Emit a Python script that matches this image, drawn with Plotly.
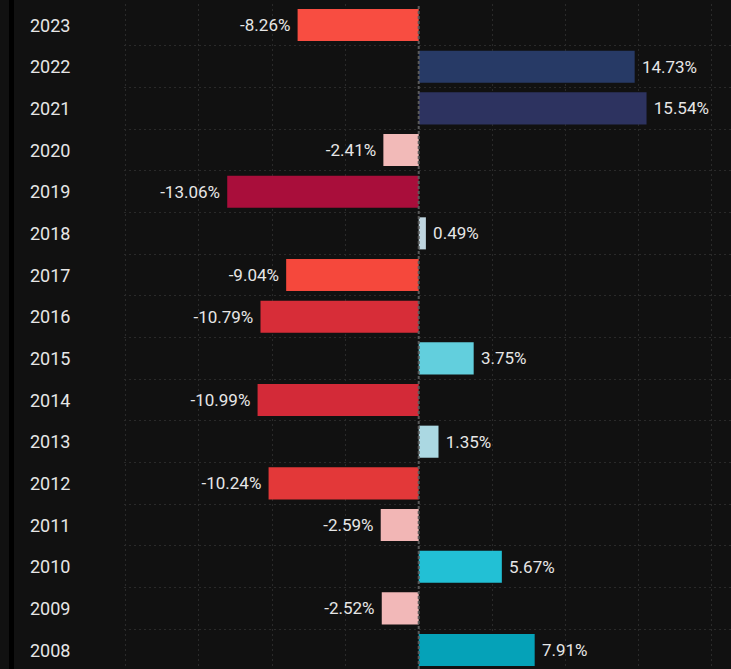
import plotly.graph_objects as go

years = ["2023", "2022", "2021", "2020", "2019", "2018", "2017", "2016",
         "2015", "2014", "2013", "2012", "2011", "2010", "2009", "2008"]
returns = [-8.26, 14.73, 15.54, -2.41, -13.06, 0.49, -9.04, -10.79,
           3.75, -10.99, 1.35, -10.24, -2.59, 5.67, -2.52, 7.91]
colors = ["#F84D41", "#273A66", "#2D3360", "#F2BAB8", "#A90E3B", "#BFD5DF",
          "#F5483C", "#D72D38", "#62CFDD", "#D32A38", "#ABD8E2", "#E33839",
          "#F2B6B5", "#22C0D5", "#F2B8B8", "#05A2B8"]
NB = "\u00a0"
labels = [(NB + f"{v:.2f}%") if v >= 0 else (f"{v:.2f}%" + NB) for v in returns]

W, H = 731, 669
ML, MR, MT, MB = 124, 0, 4, 0
pw = W - ML - MR
order = years[::-1]

fig = go.Figure(go.Bar(
    y=years, x=returns, orientation="h",
    marker=dict(color=colors, line=dict(width=0)),
    width=0.77,
    text=labels, textposition="outside", cliponaxis=False,
    constraintext="none",
    textfont=dict(color="#E6E6E6", size=17, family="Roboto"),
    hoverinfo="skip",
))

# left-aligned year labels
for y in years:
    fig.add_annotation(x=(28 - ML) / pw, xref="paper", y=order.index(y), yref="y",
                       text=y, showarrow=False, xanchor="left",
                       font=dict(color="#E6E6E6", size=18, family="Roboto"))

# dark stripe at the left edge
fig.add_shape(type="rect", xref="paper", yref="paper",
              x0=(9 - ML) / pw, x1=(14 - ML) / pw, y0=-0.1, y1=1.1,
              fillcolor="#000000", line=dict(width=0), layer="above")

grid = dict(gridcolor="#2A2A2A", griddash="2px,3px", gridwidth=1)

fig.update_layout(
    width=W, height=H,
    margin=dict(l=ML, r=MR, t=MT, b=MB),
    paper_bgcolor="#111111", plot_bgcolor="#111111",
    showlegend=False, bargap=0.23,
    xaxis=dict(range=[-20.1, 21.3], tickvals=[-20, -15, -10, -5, 5, 10, 15, 20],
               showticklabels=False, showgrid=True, **grid,
               zeroline=False, showline=False, fixedrange=True),
    yaxis=dict(type="category", categoryorder="array", categoryarray=order,
               range=[-0.455, 15.504], showticklabels=False,
               tickson="boundaries", showgrid=True, **grid,
               showline=False, zeroline=False, fixedrange=True),
)

# dashed zero line
fig.add_shape(type="line", xref="x", yref="paper", x0=0, x1=0, y0=0, y1=1,
              line=dict(color="#5A5A5A", width=2, dash="3px,2px"), layer="above")

fig.write_html("out.html", config={"displayModeBar": False},
               post_script="document.body.style.margin='0';document.body.style.padding='0';document.body.style.background='#111111';")
